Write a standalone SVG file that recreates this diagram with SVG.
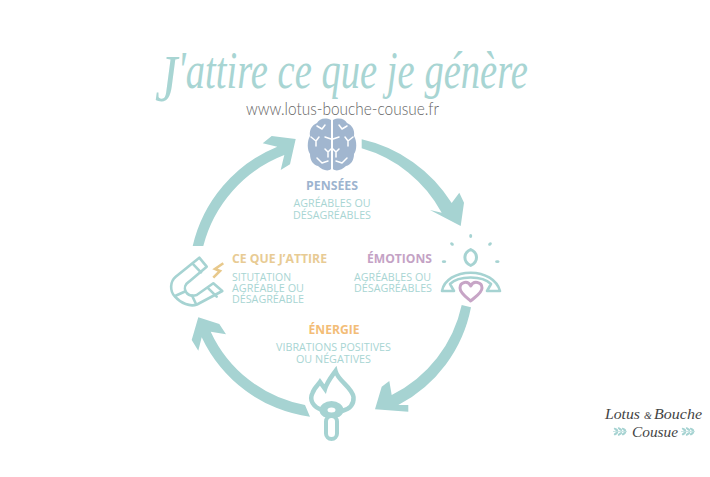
<svg xmlns="http://www.w3.org/2000/svg" xmlns:xlink="http://www.w3.org/1999/xlink" width="710" height="477" viewBox="0 0 710 477">
<style>
text{font-family:"Open Sans","Liberation Sans",sans-serif}
.h{font-weight:700;font-size:12.5px}
.b{font-size:11px;fill:#a8d5d3}
.m{text-anchor:middle}
.e{text-anchor:end}
.arrow{fill:#a6d3d2}
.ln{fill:none;stroke:#a6d3d2;stroke-width:2.6;stroke-linejoin:round;stroke-linecap:round}
.script{font-family:"Liberation Serif",serif;font-style:italic}
.wb{fill:none;stroke:#fff;stroke-width:1.5;stroke-linecap:round;stroke-linejoin:round}
</style>
<rect width="710" height="477" fill="#fff"/>
<defs>
<g id="hemi">
<path fill="#a1b6cf" d="M331,120C325,117 319,119 317,123C312,125 309,130 310,136C307,141 307,150 310,154C310,160 313,165 318,166C322,170 328,172 331,169Z"/>
<path class="wb" d="M317,126L322,129L325,125M311,137L316,141L319,137M316,141L316,146M325,137L331,139M325,149L328,152L331,149M328,152L328,157M317,158L322,163L328,161"/>
</g>
<g id="leaf" fill="#a6d3d2">
<path d="M0,0L14,0" stroke="#a6d3d2" stroke-width=".6"/>
<ellipse cx="3" cy="-2" rx="2.6" ry="1.1" transform="rotate(35 3 -2)"/><ellipse cx="3" cy="2" rx="2.6" ry="1.1" transform="rotate(-35 3 2)"/>
<ellipse cx="7" cy="-2.4" rx="2.6" ry="1.1" transform="rotate(35 7 -2.4)"/><ellipse cx="7" cy="2.4" rx="2.6" ry="1.1" transform="rotate(-35 7 2.4)"/>
<ellipse cx="11" cy="-2" rx="2.6" ry="1.1" transform="rotate(35 11 -2)"/><ellipse cx="11" cy="2" rx="2.6" ry="1.1" transform="rotate(-35 11 2)"/>
</g>
</defs>
<g id="connectors">
<path class="arrow" d="M361.7,139.3A143,143 0 0 1 451.7,203L459.3,192.7L464,202.7L460.7,226L430,210L441.7,212.7A132,132 0 0 0 361.7,148.3Z"/>
<path class="arrow" d="M471,307.3A140,140 0 0 1 398.3,405L408.3,405L408.3,411.7L375,409.3L381.700,386.700L389.3,381L391.7,395A131,131 0 0 0 461.7,305Z"/>
<path class="arrow" d="M310,416.7A140,140 0 0 1 201.7,337.3L198.3,350.7L191.7,340L198.3,317.3L219.3,324L226,334.3L210.7,331.7A130,130 0 0 0 305,405Z"/>
<path class="arrow" d="M192.7,246A142,142 0 0 1 277.3,146.7L262.7,143.3L271.7,136L295.7,139L290,164.3L280.7,170L284.3,155A133,133 0 0 0 203.3,246Z"/>
</g>
<g id="title">
<text class="script" x="155" y="88" font-size="52" fill="#a8d5d3" textLength="373" lengthAdjust="spacingAndGlyphs"><tspan font-size="68" dy="13">J</tspan><tspan dy="-13">'attire ce que je génère</tspan></text>
<text x="246" y="115" font-size="17" fill="#666" style="font-family:Lato,'Open Sans',sans-serif;font-weight:300" textLength="193" lengthAdjust="spacingAndGlyphs">www.lotus-bouche-cousue.fr</text>
</g>
<g id="node-pensees">
<use xlink:href="#hemi" href="#hemi"/>
<use xlink:href="#hemi" href="#hemi" transform="translate(664,0) scale(-1,1)"/>
<text class="h m" x="332" y="190" fill="#9db4cf" textLength="52" lengthAdjust="spacingAndGlyphs">PENSÉES</text>
<text class="b m" x="332" y="206.7" textLength="77" lengthAdjust="spacingAndGlyphs">AGRÉABLES OU</text>
<text class="b m" x="332" y="219" textLength="78" lengthAdjust="spacingAndGlyphs">DÉSAGRÉABLES</text>
</g>
<g id="node-emotions">
<g fill="#a6d3d2"><ellipse cx="470.7" cy="236" rx="1.5" ry="2"/><ellipse cx="452" cy="244" rx="2" ry="1.5" transform="rotate(35 452 244)"/><ellipse cx="490" cy="244" rx="2" ry="1.5" transform="rotate(-35 490 244)"/><ellipse cx="444" cy="261.7" rx="2.2" ry="1.4"/><ellipse cx="497.3" cy="261.7" rx="2.2" ry="1.4"/></g>
<path class="ln" style="stroke-width:3" d="M470.7,249.500C474,251 476.500,254 476.500,257.500C476.500,261 474,264 470.700,265.500C467.400,264 464.900,261 464.900,257.500C464.900,254 467.400,251 470.700,249.500Z"/>
<path class="ln" d="M442,291C444,280 456,272.700 470.700,272.700C485,272.700 497,280 500,291L487,291L491,284M442,291L454,291L450,284C455,279 463,277.500 470.700,277.500C478,277.500 486,279 491,284"/>
<path d="M470.700,301C466,297 460,293 460,288C460,282 468,280 470.700,286C473.500,280 482,282 482,288C482,293 475,297 470.700,301Z" fill="#fff" stroke="#c7a5c6" stroke-width="3" stroke-linejoin="round"/>
<text class="h e" x="432" y="263.3" fill="#c4a2c5" textLength="65" lengthAdjust="spacingAndGlyphs">ÉMOTIONS</text>
<text class="b e" x="431" y="280.7" textLength="77" lengthAdjust="spacingAndGlyphs">AGRÉABLES OU</text>
<text class="b e" x="432" y="291.7" textLength="78" lengthAdjust="spacingAndGlyphs">DÉSAGRÉABLES</text>
</g>
<g id="node-energie">
<path d="M322,410C313,407 309,400 312.500,393C314,388 318,385 320,382L325,389C327,382 332,376 335.500,371C338,381 352,387 353.500,397C354,404 350,409 342,411" fill="none" stroke="#a6d3d2" stroke-width="4.500" stroke-linejoin="miter"/>
<ellipse cx="331.500" cy="410" rx="12" ry="9" fill="#a6d3d2"/>
<ellipse cx="331.500" cy="410" rx="4" ry="2.500" fill="#fff"/>
<rect x="326" y="416" width="11" height="23" rx="5.500" fill="#fff" stroke="#a6d3d2" stroke-width="4"/>
<text class="h m" x="334" y="334" fill="#f3bd77" textLength="51" lengthAdjust="spacingAndGlyphs">ÉNERGIE</text>
<text class="b m" x="333.500" y="351" textLength="115" lengthAdjust="spacingAndGlyphs">VIBRATIONS POSITIVES</text>
<text class="b m" x="333.500" y="363.300" textLength="75" lengthAdjust="spacingAndGlyphs">OU NÉGATIVES</text>
</g>
<g id="node-attire">
<path class="ln" d="M199.300,257.700L175.700,276.700C170,281.500 169.500,291 175,296.700C181,303.500 190,307 197,304.500L222.300,291L213.300,283.300L196.700,295C192,296.500 188,295 186,292C183.500,288 185.500,284 189,281.700L206.700,266.700Z"/>
<path class="ln" d="M193.300,264.300L201,272.300M208.300,288.300L216.700,296.700M175,296L185,291.500M192,295.500L196,304"/>
<path d="M223.300,263.300L215,269L220,271L213.300,277.700" fill="none" stroke="#e8c98c" stroke-width="2.600" stroke-linejoin="miter"/>
<text class="h" x="232" y="263.300" fill="#e8cb94" textLength="95" lengthAdjust="spacingAndGlyphs">CE QUE J’ATTIRE</text>
<text class="b" x="232" y="280.700" textLength="59" lengthAdjust="spacingAndGlyphs">SITUTATION</text>
<text class="b" x="232" y="292.300" textLength="72" lengthAdjust="spacingAndGlyphs">AGRÉABLE OU</text>
<text class="b" x="232" y="303.300" textLength="72" lengthAdjust="spacingAndGlyphs">DÉSAGRÉABLE</text>
</g>
<g id="logo">
<text class="script" x="605" y="419" font-size="15.500" fill="#444" textLength="35" lengthAdjust="spacingAndGlyphs">Lotus</text>
<text class="script" x="644" y="419" font-size="10" fill="#444">&amp;</text>
<text class="script" x="654" y="419" font-size="15.500" fill="#444" textLength="48" lengthAdjust="spacingAndGlyphs">Bouche</text>
<text class="script" x="632" y="437" font-size="15.500" fill="#444" textLength="46" lengthAdjust="spacingAndGlyphs">Cousue</text>
<use xlink:href="#leaf" href="#leaf" x="613" y="431.500"/>
<use xlink:href="#leaf" href="#leaf" x="681" y="431.500"/>
</g>
</svg>
